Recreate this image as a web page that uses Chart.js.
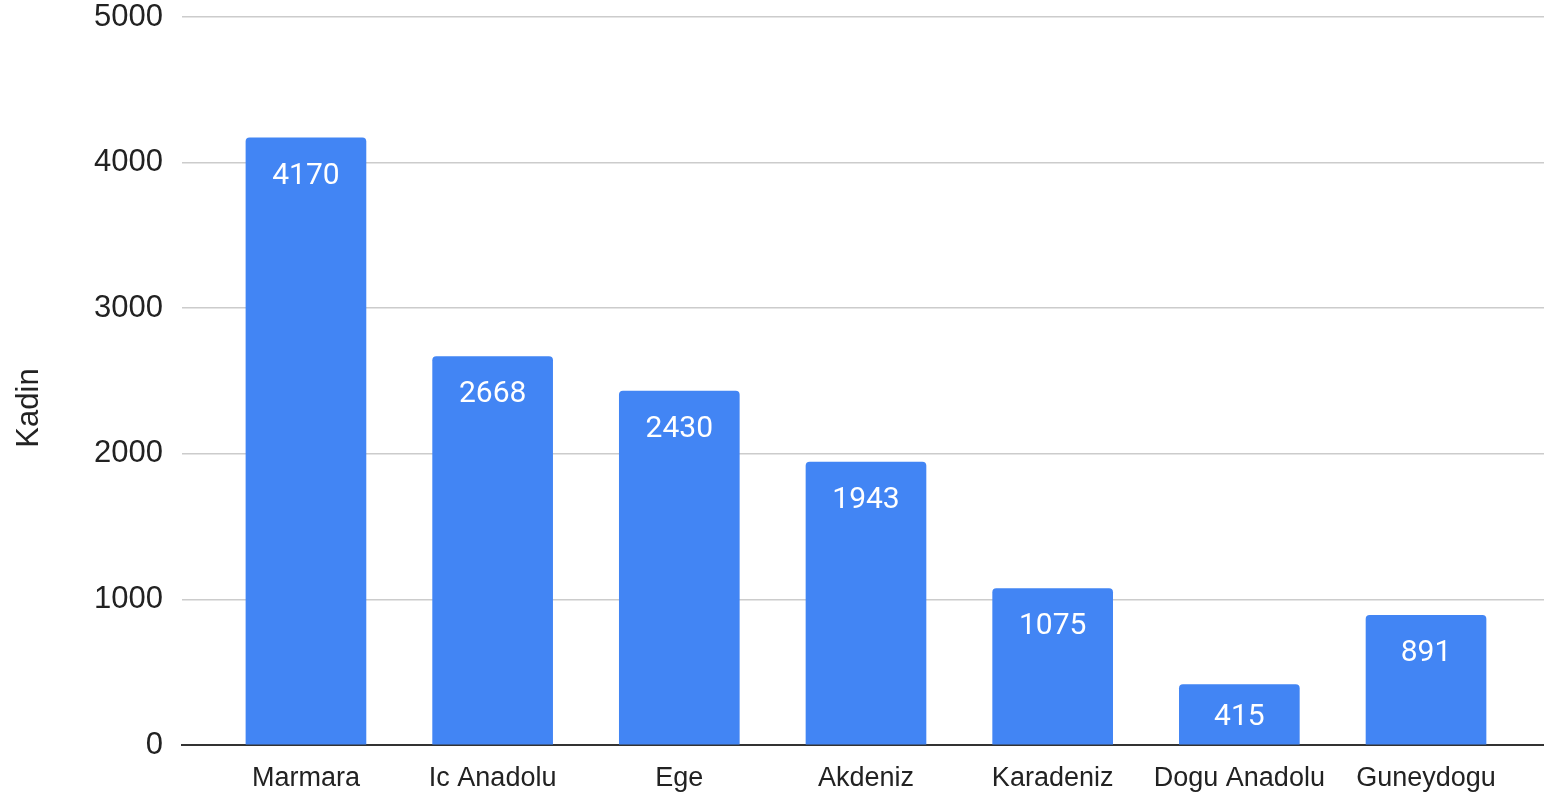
<!DOCTYPE html>
<html>
<head>
<meta charset="utf-8">
<script src="https://cdn.jsdelivr.net/npm/chart.js@4.4.0/dist/chart.umd.min.js"></script>
<style>
  html, body { margin: 0; padding: 0; background: #fff; }
  #wrap { width: 1544px; height: 794px; }
</style>
</head>
<body>
<div id="wrap"><canvas id="regionChart"></canvas></div>
<script>
// Chart data
const categories = ['Marmara', 'Ic Anadolu', 'Ege', 'Akdeniz', 'Karadeniz', 'Dogu Anadolu', 'Guneydogu'];
const kadinValues = [4170, 2668, 2430, 1943, 1075, 415, 891];
const yTicks = [0, 1000, 2000, 3000, 4000, 5000];
const axisTitle = 'Kadin';

const BAR_COLOR = '#4285F4';

// value labels inside the top of each bar
const barLabels = {
    id: 'barLabels',
    afterDatasetsDraw(chart) {
        const ctx = chart.ctx;
        const meta = chart.getDatasetMeta(0);
        ctx.save();
        ctx.fillStyle = '#ffffff';
        ctx.font = '30px Roboto';
        ctx.textAlign = 'center';
        ctx.textBaseline = 'alphabetic';
        meta.data.forEach((bar, i) => {
            const mid = (bar.y + bar.base) / 2;
            const cy = Math.min(bar.y + 35, mid);
            ctx.fillText(String(kadinValues[i]), bar.x, cy + 10.7);
        });
        ctx.restore();
    }
};

// vertical axis title, placed like the original
const sideTitle = {
    id: 'sideTitle',
    afterDraw(chart) {
        const ctx = chart.ctx;
        ctx.save();
        ctx.translate(38, 408);
        ctx.rotate(-Math.PI / 2);
        ctx.fillStyle = '#222222';
        ctx.font = '31px "Liberation Sans"';
        ctx.textAlign = 'center';
        ctx.textBaseline = 'alphabetic';
        ctx.fillText(axisTitle, 0, 0);
        ctx.restore();
    }
};

const ctx = document.getElementById('regionChart').getContext('2d');
new Chart(ctx, {
    type: 'bar',
    data: {
        datasets: [{
            label: axisTitle,
            data: kadinValues.map((v, i) => ({ x: i, y: v })),
            backgroundColor: BAR_COLOR,
            borderRadius: { topLeft: 4, topRight: 4, bottomLeft: 0, bottomRight: 0 },
            borderSkipped: 'bottom',
            barThickness: 120
        }]
    },
    options: {
        responsive: true,
        maintainAspectRatio: false,
        animation: false,
        layout: { padding: 0 },
        plugins: {
            legend: { display: false },
            tooltip: { enabled: false }
        },
        scales: {
            x: {
                type: 'linear',
                offset: false,
                min: -0.664,
                max: 6.632,
                afterFit: (scale) => { scale.height = 49; },
                grid: { display: false, drawTicks: false },
                border: { display: true, color: '#333333', width: 2 },
                afterBuildTicks: (scale) => {
                    scale.ticks = categories.map((c, i) => ({ value: i }));
                },
                ticks: {
                    autoSkip: false,
                    maxRotation: 0,
                    padding: 17,
                    color: '#222222',
                    font: { family: '"Liberation Sans"', size: 27 },
                    callback: (v) => categories[v]
                }
            },
            y: {
                min: 0,
                max: 5000,
                afterFit: (scale) => {
                    scale.width = 182;
                    scale.paddingTop = 17;
                    scale.paddingBottom = 0;
                },
                afterBuildTicks: (scale) => {
                    scale.ticks = yTicks.map(v => ({ value: v }));
                },
                grid: { color: '#cccccc', lineWidth: 1.5, drawTicks: false },
                border: { display: false },
                ticks: {
                    padding: 19,
                    color: '#222222',
                    font: { family: '"Liberation Sans"', size: 31, lineHeight: 1.1 },
                    callback: (v) => String(v)
                }
            }
        }
    },
    plugins: [barLabels, sideTitle]
});
</script>
</body>
</html>
